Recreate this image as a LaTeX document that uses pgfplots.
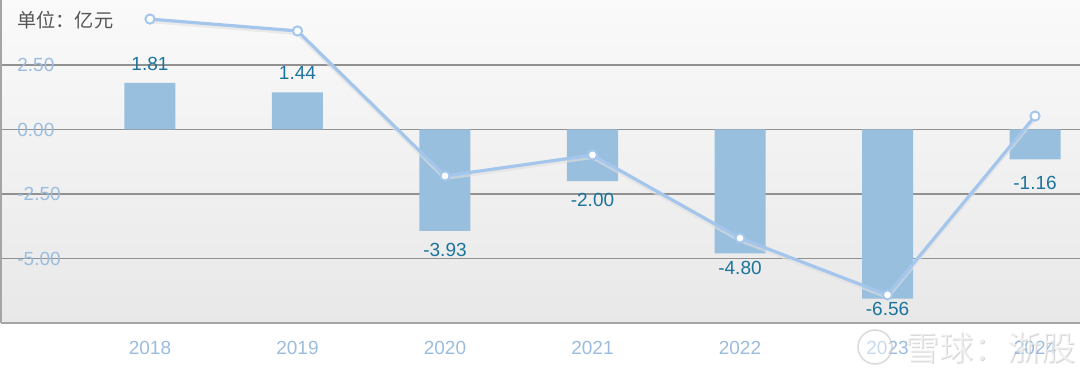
\documentclass[border=0pt]{standalone}
\usepackage{pgfplots}
\pgfplotsset{compat=1.18}
\usepackage{fontspec}
\setmainfont{Liberation Sans}
\newfontfamily\cjk{Noto Sans CJK SC}
\definecolor{barblue}{RGB}{153,191,222}
\definecolor{lineblue}{RGB}{164,198,236}
\definecolor{ticklbl}{RGB}{155,188,222}
\definecolor{valtxt}{RGB}{28,116,156}
\definecolor{gridc}{RGB}{145,145,145}
\definecolor{axc}{RGB}{165,165,165}
\begin{document}
\begin{tikzpicture}
\begin{axis}[
 at={(0,0)}, anchor=south west,
 scale only axis, width=539.5pt, height=161.5pt,
 xmin=-1.010, xmax=6.305, ymin=-7.50, ymax=5.02,
 axis x line=bottom, axis y line=left,
 axis line style={-, draw=axc, line width=0.9pt},
 xtick={0,1,2,3,4,5,6}, xticklabels={2018,2019,2020,2021,2022,2023,2024},
 ytick={-5,-2.5,0,2.5},
 ymajorgrids, grid style={draw=gridc, line width=0.8pt},
 major tick length=0pt,
 tick style={draw=none},
 ticklabel style={font=\fontsize{9.5}{11}\selectfont, text=ticklbl},
 yticklabel style={anchor=west, inner sep=0pt, xshift=8pt},
 xticklabel style={anchor=center, inner sep=0pt, yshift=-12.5pt},
 /pgf/number format/.cd, fixed, fixed zerofill, precision=2, assume math mode=true,
 /pgfplots/.cd,
 axis background/.style={shade, top color=white!98!black, bottom color=black!9},
 clip=false,
]
\addplot[ybar, bar width=25.5pt, fill=barblue, draw=none] coordinates {(0,1.81)(1,1.44)(2,-3.93)(3,-2.00)(4,-4.80)(5,-6.56)(6,-1.16)};
\addplot[black!12, line width=2pt, opacity=0.6, forget plot] coordinates {(0,4.20)(1,3.74)(2,-1.88)(3,-1.07)(4,-4.29)(5,-6.49)(6,0.44)};
\addplot[lineblue, line width=1.6pt, mark=*, mark size=2.3pt, mark options={fill=white, draw=lineblue, line width=1pt}] coordinates {(0,4.28)(1,3.82)(2,-1.80)(3,-0.99)(4,-4.21)(5,-6.41)(6,0.52)};
\addplot[only marks, mark=none, nodes near coords, point meta=explicit symbolic,
  nodes near coords style={anchor=center, inner sep=0pt, font=\fontsize{9.5}{11}\selectfont, text=valtxt}]
  table[meta=lab] {
x y lab
0 2.54 1.81
1 2.19 1.44
2 -4.65 -3.93
3 -2.75 -2.00
4 -5.37 -4.80
5 -6.94 -6.56
6 -2.07 -1.16
};
\end{axis}
\node[anchor=west, inner sep=0pt, text={rgb,255:red,85;green,85;blue,85}] at (8pt,151.5pt) {\cjk\fontsize{9.6}{11}\selectfont 单位：亿元};
\draw[black!30, line width=0.8pt, fill=white, opacity=0.45] (437pt,-12pt) circle (8.5pt);
\node[inner sep=0pt, text=black!40, opacity=0.4] at (495pt,-13pt) {\cjk\fontsize{17}{20}\selectfont 雪球：浙股};
\node[inner sep=0pt, text=white, opacity=0.6] at (494.5pt,-12.5pt) {\cjk\fontsize{17}{20}\selectfont 雪球：浙股};
\pgfresetboundingbox
\path (-0.5pt,-22.5pt) rectangle (539.5pt,161.5pt);
\end{tikzpicture}
\end{document}
